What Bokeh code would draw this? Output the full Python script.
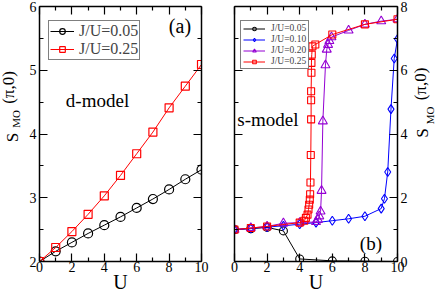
import math
from bokeh.plotting import figure
from bokeh.models import (Range1d, LinearAxis, FixedTicker, CustomJSTickFormatter,
                          Legend, LegendItem, Label)
from bokeh.layouts import row
from bokeh.embed import file_html
from bokeh.resources import INLINE

SERIF = "Liberation Serif"

# ---------------- data ----------------
# panel (a): d-model
u_a = [0, 1, 2, 3, 4, 5, 6, 7, 8, 9, 10]
s_a_005 = [2.0, 2.16, 2.30, 2.44, 2.57, 2.70, 2.84, 2.98, 3.13, 3.29, 3.44]
s_a_025 = [2.0, 2.22, 2.47, 2.74, 3.03, 3.35, 3.69, 4.03, 4.41, 4.75, 5.09]

# panel (b): s-model
u_b_005 = [0, 1, 2, 3, 4, 6, 8, 10]
s_b_005 = [1.0, 1.03, 1.07, 0.96, 0.08, 0.02, 0.01, 0.0]

u_b_010 = [0, 1, 2, 3, 4, 5, 6, 7, 8, 9, 9.2, 9.4, 9.6, 9.8, 10]
s_b_010 = [1.0, 1.04, 1.08, 1.12, 1.17, 1.22, 1.28, 1.34, 1.42, 1.66, 1.97, 2.81, 4.78, 6.37, 6.98]

u_b_020 = [0, 1, 2, 3, 4, 5.0, 5.12, 5.2, 5.28, 5.34, 5.42, 5.58, 5.66, 5.74, 5.82, 5.95, 7, 8, 9, 10]
s_b_020 = [1.0, 1.05, 1.1, 1.2, 1.22, 1.24, 1.31, 1.42, 1.57, 2.22, 4.4, 6.16, 6.65, 6.8, 6.92, 7.04, 7.25, 7.44, 7.54, 7.6]

u_b_025 = [0, 1, 2, 4, 4.28, 4.38, 4.48, 4.54, 4.58, 4.62, 4.64, 4.66, 4.68, 4.70, 4.70,
           4.70, 4.72, 4.72, 4.74, 4.78, 4.96, 6, 8, 10]
s_b_025 = [1.0, 1.05, 1.1, 1.22, 1.28, 1.37, 1.47, 1.63, 1.78, 1.94, 2.11, 2.48, 3.34, 4.46, 5.06,
           5.34, 5.92, 6.23, 6.49, 6.75, 6.81, 7.12, 7.44, 7.6]

x_ticks = [0, 2, 4, 6, 8, 10]
x_minor = [1, 3, 5, 7, 9]
y_ticks_a = [2, 3, 4, 5, 6]
y_minor_a = [2.5, 3.5, 4.5, 5.5]
y_ticks_b = [0, 2, 4, 6, 8]
y_minor_b = [1, 3, 5, 7]

labels_a = ["J/U=0.05", "J/U=0.25"]
labels_b = ["J/U=0.05", "J/U=0.10", "J/U=0.20", "J/U=0.25"]

BLACK, RED, BLUE, PURPLE = "#000000", "#ff0000", "#0000ff", "#9400d3"

H = 295


def style_axis(ax, ticks, minor, show_labels=True):
    ax.ticker = FixedTicker(ticks=ticks, minor_ticks=minor)
    ax.axis_line_width = 1.5
    ax.axis_line_color = "black"
    ax.major_tick_in = 8
    ax.major_tick_out = 0
    ax.minor_tick_in = 4
    ax.minor_tick_out = 0
    ax.major_tick_line_width = 1.2
    ax.minor_tick_line_width = 1.2
    ax.major_tick_line_color = "black"
    ax.minor_tick_line_color = "black"
    ax.major_label_text_font = SERIF
    ax.major_label_text_font_size = "14px"
    ax.major_label_text_color = "black"
    ax.major_label_standoff = 3
    if not show_labels:
        ax.formatter = CustomJSTickFormatter(code="return ''")
        ax.major_label_standoff = 0


def make_fig(width, y_range, y_side, mb_left, mb_right):
    p = figure(width=width, height=H, x_range=Range1d(0, 10), y_range=y_range,
               output_backend="svg", toolbar_location=None,
               x_axis_location="below", y_axis_location=y_side,
               min_border_left=mb_left, min_border_right=mb_right,
               min_border_top=6, min_border_bottom=33)
    p.xgrid.visible = False
    p.ygrid.visible = False
    p.outline_line_color = None
    p.background_fill_color = "white"
    p.border_fill_color = "white"
    xa = p.xaxis[0]
    xa.axis_label = "U"
    xa.axis_label_text_font = SERIF
    xa.axis_label_text_font_size = "20px"
    xa.axis_label_text_font_style = "normal"
    xa.axis_label_text_color = "black"
    xa.axis_label_standoff = -4
    return p


def add_text(p, text, x, y, size, units="data", angle=0.0, align="center", baseline="middle"):
    p.add_layout(Label(x=x, y=y, x_units=units, y_units=units, text=text,
                       text_font=SERIF, text_font_size=size, text_color="black",
                       text_align=align, text_baseline=baseline, angle=angle))


def label_fig(width, xs, ys):
    # narrow strip holding the rotated y-axis title S_MO(pi,0)
    f = figure(width=width, height=H, x_range=Range1d(0, 1), y_range=Range1d(0, 1),
               output_backend="svg", toolbar_location=None,
               x_axis_location=None, y_axis_location=None,
               min_border_left=0, min_border_right=0, min_border_top=0, min_border_bottom=0)
    f.grid.visible = False
    f.outline_line_color = None
    f.background_fill_color = "white"
    f.border_fill_color = "white"
    a = math.pi / 2
    add_text(f, "S", xs[0], ys[0], "17px", units="screen", angle=a)
    add_text(f, "MO", xs[1], ys[1], "11px", units="screen", angle=a)
    add_text(f, "(\u03c0,0)", xs[2], ys[2], "17px", units="screen", angle=a)
    return f


# ---------------- panel (a) ----------------
pa = make_fig(192, Range1d(2, 6), "left", 10, 17)
style_axis(pa.xaxis[0], x_ticks, x_minor)
pa.xaxis[0].major_label_standoff = 0
style_axis(pa.yaxis[0], y_ticks_a, y_minor_a)
top_a = LinearAxis()
style_axis(top_a, x_ticks, x_minor, show_labels=False)
pa.add_layout(top_a, "above")
right_a = LinearAxis()
style_axis(right_a, y_ticks_a, y_minor_a, show_labels=False)
pa.add_layout(right_a, "right")

la1 = pa.line(u_a, s_a_005, line_color=BLACK, line_width=1)
ma1 = pa.scatter(u_a, s_a_005, marker="circle", size=9, line_color=BLACK, fill_color=None, line_width=1.2)
la2 = pa.line(u_a, s_a_025, line_color=RED, line_width=1)
ma2 = pa.scatter(u_a, s_a_025, marker="square", size=8, line_color=RED, fill_color=None, line_width=1.2)

leg_a = Legend(items=[LegendItem(label=labels_a[0], renderers=[la1, ma1]),
                      LegendItem(label=labels_a[1], renderers=[la2, ma2])],
               location=(9, 201), label_text_font=SERIF, label_text_font_size="16px",
               glyph_width=24, glyph_height=14, label_height=14, spacing=0, padding=1,
               margin=0, label_standoff=5, border_line_color="black", border_line_width=1,
               background_fill_color="white", background_fill_alpha=1.0)
pa.add_layout(leg_a)

add_text(pa, "(a)", 8.67, 5.70, "20px")
add_text(pa, "d-model", 3.58, 4.53, "19px")

# ---------------- panel (b) ----------------
pb = make_fig(192, Range1d(0, 8), "right", 16, 10)
style_axis(pb.xaxis[0], x_ticks, x_minor)
pb.xaxis[0].major_label_standoff = 0
style_axis(pb.yaxis[0], y_ticks_b, y_minor_b)
pb.yaxis[0].major_label_standoff = 3
top_b = LinearAxis()
style_axis(top_b, x_ticks, x_minor, show_labels=False)
pb.add_layout(top_b, "above")
left_b = LinearAxis()
style_axis(left_b, y_ticks_b, y_minor_b, show_labels=False)
pb.add_layout(left_b, "left")

series_b = [
    (u_b_005, s_b_005, BLACK, "circle", 8),
    (u_b_010, s_b_010, BLUE, "diamond", 9),
    (u_b_020, s_b_020, PURPLE, "triangle", 9),
    (u_b_025, s_b_025, RED, "square", 7),
]
items_b = []
for (uu, ss, col, mk, sz), lab in zip(series_b, labels_b):
    lr = pb.line(uu, ss, line_color=col, line_width=1)
    mr = pb.scatter(uu, ss, marker=mk, size=sz, line_color=col, fill_color=None, line_width=1.1)
    items_b.append(LegendItem(label=lab, renderers=[lr, mr]))

leg_b = Legend(items=items_b, location=(6, 192), label_text_font=SERIF, label_text_font_size="9.5px",
               glyph_width=22, glyph_height=9, label_height=9, spacing=1, padding=2,
               margin=0, label_standoff=6, border_line_color="black", border_line_width=1,
               background_fill_color="white", background_fill_alpha=1.0)
pb.add_layout(leg_b)

add_text(pb, "s-model", 2.05, 4.47, "19px")
add_text(pb, "(b)", 8.37, 0.56, "19px")

# ---------------- y titles (centre anchors) ----------------
lab_l = label_fig(26, [12.2, 15.8, 8.2], [124, 142.5, 174])
lab_r = label_fig(26, [12.0, 19.0, 9.6], [128.5, 146, 177.5])

layout = row(lab_l, pa, pb, lab_r)
open("out.html", "w").write(file_html(layout, INLINE))
